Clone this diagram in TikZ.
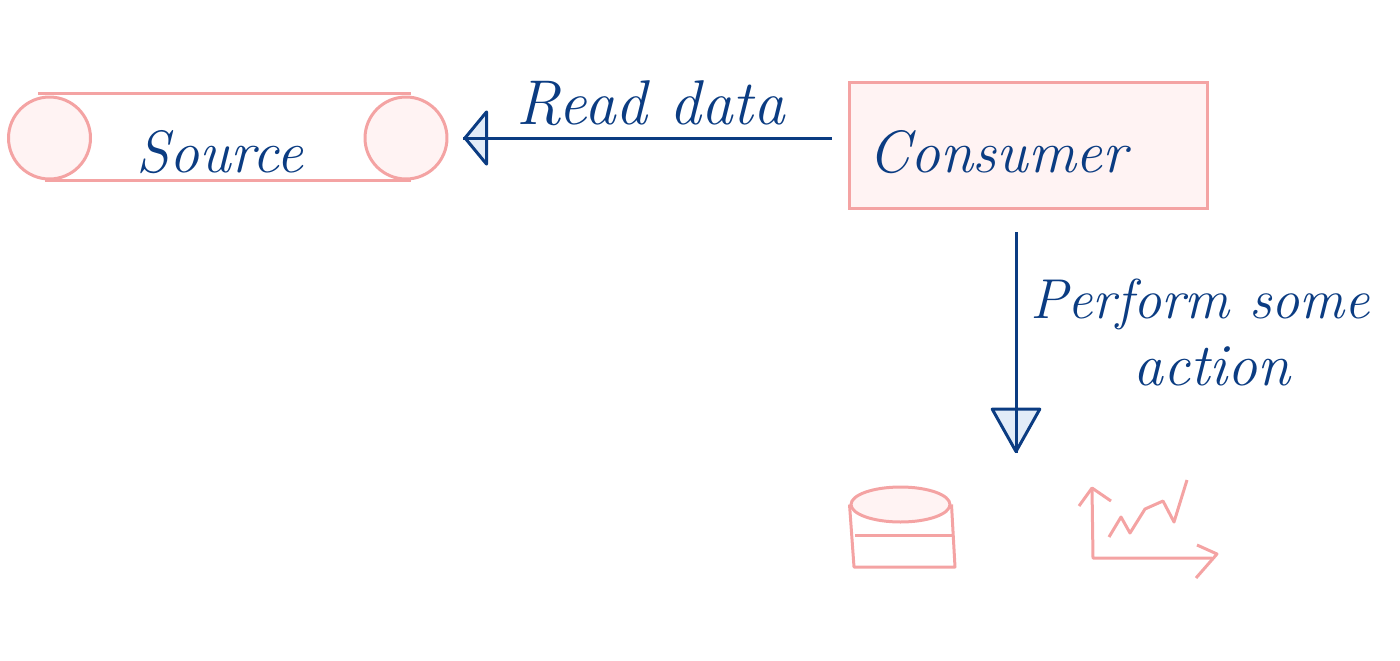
\documentclass[tikz,border=0pt]{standalone}
\usepackage{fontspec}
\usetikzlibrary{positioning, arrows.meta, shapes.geometric}
\definecolor{inkblue}{HTML}{0B3C82}
\definecolor{tipfill}{HTML}{E2ECF8}
\definecolor{rosestroke}{HTML}{F4A3A3}
\definecolor{rosefill}{HTML}{FFF3F3}

\begin{document}
\begin{tikzpicture}[x=0.02cm, y=-0.02cm,
		roller/.style={circle, draw=rosestroke, fill=rosefill, line width=0.06cm, minimum size=1.64cm, inner sep=0pt},
		box/.style={rectangle, draw=rosestroke, fill=rosefill, line width=0.06cm, minimum width=7.18cm, minimum height=2.54cm},
		disk/.style={ellipse, draw=rosestroke, fill=rosefill, line width=0.06cm, minimum width=1.98cm, minimum height=0.7cm, inner sep=0pt},
		pink/.style={draw=rosestroke, line width=0.06cm, line join=round},
		script/.style={text=inkblue, font=\fontsize{34}{40}\selectfont\itshape, inner sep=0pt},
		readflow/.style={draw=inkblue, line width=0.06cm, shorten <=0.32cm, shorten >=0.3cm, -{Triangle[length=0.5cm, width=1.2cm, fill=tipfill, line join=round]}, postaction={draw=inkblue, -}},
		actionflow/.style={draw=inkblue, line width=0.06cm, shorten <=0.44cm, -{Triangle[length=0.94cm, width=1.04cm, fill=tipfill, line join=round]}, postaction={draw=inkblue, -}}]
		\useasboundingbox (0,0) rectangle (1400,660);

		\node [roller] (leftroller) at (49.5,138) {};
		\node [roller] (rightroller) at (406,138) {};
		\node [script] (source) at (220,152) {Source};
		\node [box] (consumer) at (1028.5,145.5) {};
		\node [script, anchor=west] (consumertext) at (868,152) {Consumer};
		\node [script, font=\fontsize{36}{40}\selectfont\itshape] (readtext) at (651,103) {Read data};
		\node [script, font=\fontsize{32}{40}\selectfont\itshape, anchor=west] (performtext) at (1030,304) {Perform some};
		\node [script, anchor=west] (actiontext) at (1133,366) {action};

		\coordinate (actionend) at (1016,453);
		\node [disk] (disktop) at (900.5,504.5) {};
		\coordinate (diskleft) at (854,567);
		\coordinate (diskright) at (955,567);
		\coordinate (chartorigin) at (1093,558);
		\coordinate (charttop) at (1092,488);
		\coordinate (chartright) at (1212,558);
		\coordinate (charttip) at (1217,554);

		\draw[pink] ([xshift=-0.23cm, yshift=0.04cm]leftroller.north) -- ([xshift=0.1cm, yshift=0.04cm]rightroller.north);
		\draw[pink] ([xshift=-0.09cm]leftroller.south) -- ([xshift=0.1cm]rightroller.south);
		\draw[readflow] (consumer.west |- rightroller.east) -- (rightroller.east);
		\draw[actionflow] (actionend |- consumer.south) -- (actionend);

		\draw[pink] (disktop.west) -- (diskleft) -- (diskright) -- (disktop.east);
		\draw[pink] (855,535) -- (954,535);

		\draw[pink] (charttop) -- (chartorigin) -- (chartright);
		\draw[pink] (1079,506) -- (charttop) -- (1111,501);
		\draw[pink] (1197,545) -- (charttip) -- (1196,578);
		\draw[pink] (1109,537) -- (1121,517) -- (1130,533) -- (1145,509) -- (1163,501) -- (1174,522) -- (1187,480);
	\end{tikzpicture}
\end{document}
